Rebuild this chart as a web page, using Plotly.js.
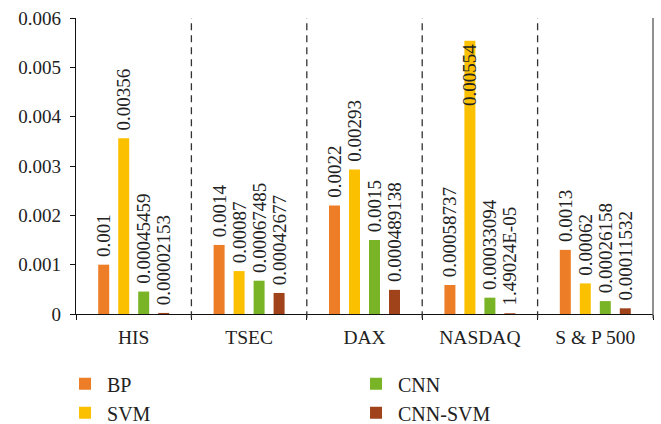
<!DOCTYPE html>
<html>
<head>
<meta charset="utf-8">
<script src="https://cdn.plot.ly/plotly-3.0.1.min.js"></script>
<style>
  html, body { margin: 0; padding: 0; background: #fff; }
  #chart { width: 661px; height: 424px; }
</style>
</head>
<body>
<div id="chart"></div>
<script>
// Market indices on the category axis
const markets = ['HIS', 'TSEC', 'DAX', 'NASDAQ', 'S & P 500'];

// Error values per model, kept as the printed label strings
const bpLabels     = ['0.001', '0.0014', '0.0022', '0.00058737', '0.0013'];
const svmLabels    = ['0.00356', '0.00087', '0.00293', '0.00554', '0.00062'];
const cnnLabels    = ['0.00045459', '0.00067485', '0.0015', '0.00033094', '0.00026158'];
const cnnSvmLabels = ['0.00002153', '0.00042677', '0.000489138', '1.49024E-05', '0.00011532'];

// Numeric bar heights come straight from the printed values
const bpValues     = bpLabels.map(Number);
const svmValues    = svmLabels.map(Number);
const cnnValues    = cnnLabels.map(Number);
const cnnSvmValues = cnnSvmLabels.map(Number);

const serif = 'Liberation Serif, Times New Roman, serif';
const labelFont = { family: serif, size: 19, color: '#222' };

function barTrace(name, values, labels, color, rank, positions) {
  return {
    type: 'bar',
    name: name,
    x: markets,
    y: values,
    text: labels,
    // leading no-break space keeps the rotated label clear of the bar top
    texttemplate: '\u00a0%{text}',
    textposition: positions || 'outside',
    insidetextanchor: 'end',
    textangle: -90,
    constraintext: 'none',
    cliponaxis: false,
    textfont: labelFont,
    insidetextfont: labelFont,
    outsidetextfont: labelFont,
    marker: { color: color },
    legendrank: rank,
    hoverinfo: 'x+y+name'
  };
}

const data = [
  barTrace('BP', bpValues, bpLabels, '#ED7D27', 1),
  barTrace('SVM', svmValues, svmLabels, '#FBC000', 3,
           ['outside', 'outside', 'outside', 'inside', 'outside']),
  barTrace('CNN', cnnValues, cnnLabels, '#79B427', 2),
  barTrace('CNN-SVM', cnnSvmValues, cnnSvmLabels, '#A0431A', 4)
];

// Dashed separators between market groups
const separators = [0.5, 1.5, 2.5, 3.5].map(function (x) {
  return {
    type: 'line', xref: 'x', yref: 'paper',
    x0: x, x1: x, y0: -0.014, y1: 1,
    line: { color: '#333', width: 1.3, dash: '7px,5px' }
  };
});
// Closing line on the right edge
separators.push({
  type: 'line', xref: 'paper', yref: 'paper',
  x0: 1, x1: 1, y0: -0.014, y1: 1,
  line: { color: '#555', width: 1.3 }
});

const layout = {
  width: 661,
  height: 424,
  margin: { l: 76, r: 8, t: 18, b: 110, autoexpand: false },
  paper_bgcolor: '#fff',
  plot_bgcolor: '#fff',
  font: { family: serif, color: '#222', size: 19 },
  barmode: 'group',
  bargap: 0.307,
  bargroupgap: 0.45,
  showlegend: true,
  xaxis: {
    type: 'category',
    showgrid: false,
    showline: true,
    linecolor: '#111',
    linewidth: 1.3,
    ticks: 'outside',
    tickson: 'boundaries',
    ticklen: 5,
    tickcolor: '#111',
    tickfont: { family: serif, size: 19.5, color: '#222' },
    ticklabelstandoff: 5,
    zeroline: false,
    fixedrange: true
  },
  yaxis: {
    range: [0, 0.006],
    dtick: 0.001,
    showgrid: false,
    showline: true,
    linecolor: '#111',
    linewidth: 1.3,
    ticks: 'outside',
    ticklen: 5,
    tickcolor: '#111',
    tickfont: { family: serif, size: 19, color: '#222' },
    ticklabelstandoff: 5,
    zeroline: false,
    fixedrange: true
  },
  legend: {
    orientation: 'h',
    x: -0.0225,
    xanchor: 'left',
    y: -0.17,
    yanchor: 'top',
    entrywidth: 242,
    itemwidth: 34,
    font: { family: serif, size: 20, color: '#222' },
    bgcolor: 'rgba(0,0,0,0)'
  },
  shapes: separators
};

Plotly.newPlot('chart', data, layout, { displayModeBar: false, staticPlot: true });
</script>
</body>
</html>
